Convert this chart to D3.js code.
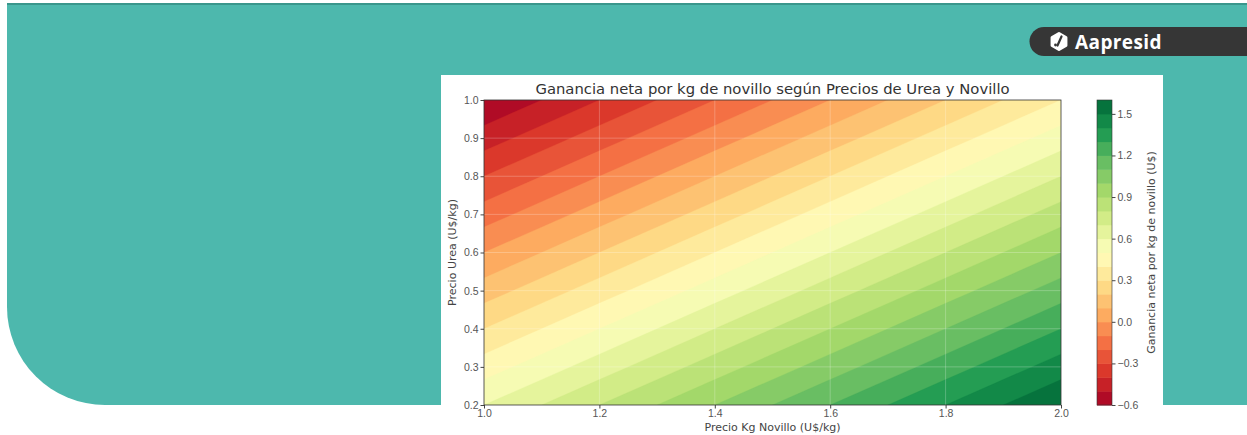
<!DOCTYPE html>
<html lang="es">
<head>
<meta charset="UTF-8">
<title>Ganancia neta por kg de novillo</title>
<script src="https://d3js.org/d3.v7.min.js"></script>
<style>
  body { margin: 0; background: #fff; }
  svg { display: block; font-family: "DejaVu Sans", sans-serif; }
  .tick text { fill: #555; font-size: 10.5px; }
  .tick line { stroke: #444; }
</style>
</head>
<body>
<svg id="chart" width="1247" height="435"></svg>
<script>
// precio kg novillo (x) y precio urea (y) del grid
const novillo = [1.0, 1.2, 1.4, 1.6, 1.8, 2.0];
const urea = [1.0, 0.9, 0.8, 0.7, 0.6, 0.5, 0.4, 0.3, 0.2];
// ganancia neta (U$), una fila por precio de urea
const ganancia = [
  [-0.60, -0.40, -0.20, 0.00, 0.20, 0.40],
  [-0.45, -0.25, -0.05, 0.15, 0.35, 0.55],
  [-0.30, -0.10, 0.10, 0.30, 0.50, 0.70],
  [-0.15, 0.05, 0.25, 0.45, 0.65, 0.85],
  [0.00, 0.20, 0.40, 0.60, 0.80, 1.00],
  [0.15, 0.35, 0.55, 0.75, 0.95, 1.15],
  [0.30, 0.50, 0.70, 0.90, 1.10, 1.30],
  [0.45, 0.65, 0.85, 1.05, 1.25, 1.45],
  [0.60, 0.80, 1.00, 1.20, 1.40, 1.60]
];
const levels = [-0.6, -0.5, -0.4, -0.3, -0.2, -0.1, 0.0, 0.1, 0.2, 0.3, 0.4, 0.5,
  0.6, 0.7, 0.8, 0.9, 1.0, 1.1, 1.2, 1.3, 1.4, 1.5, 1.6];
const xTicks = [1.0, 1.2, 1.4, 1.6, 1.8, 2.0];
const yTicks = [0.2, 0.3, 0.4, 0.5, 0.6, 0.7, 0.8, 0.9, 1.0];
const cbarTicks = [-0.6, -0.3, 0.0, 0.3, 0.6, 0.9, 1.2, 1.5];

const svg = d3.select("#chart");

// fondo teal con esquina redondeada
const teal = "#4db8ad";
svg.append("path")
  .attr("d", "M7,4 H1247 V405 H105 A98,98 0 0 1 7,307 Z")
  .attr("fill", teal);
svg.append("rect").attr("x", 7).attr("y", 3).attr("width", 1240).attr("height", 2)
  .attr("fill", "#3a968c");

// logo Aapresid
const logo = svg.append("g");
logo.append("path")
  .attr("d", "M1044,27 H1247 V56 H1044 A14.5,14.5 0 0 1 1044,27 Z")
  .attr("fill", "#363636");
const icon = logo.append("g").attr("transform", "translate(1059,41.5)");
icon.append("path")
  .attr("d", d3.range(7).map(i => {
    const a = i / 6 * 2 * Math.PI - Math.PI / 2;
    return (i ? "L" : "M") + (8 * Math.cos(a)).toFixed(2) + "," + (8 * Math.sin(a)).toFixed(2);
  }).join("") + "Z")
  .attr("fill", "#fff").attr("stroke", "#fff").attr("stroke-width", 3).attr("stroke-linejoin", "round");
icon.append("line").attr("x1", 2.5).attr("y1", -5).attr("x2", -1.5).attr("y2", 4)
  .attr("stroke", "#363636").attr("stroke-width", 2.2).attr("stroke-linecap", "round");
icon.append("circle").attr("cx", -3.5).attr("cy", 3.5).attr("r", 1.4).attr("fill", "#363636");
logo.append("text")
  .attr("x", 1075).attr("y", 48.5)
  .attr("fill", "#fff")
  .attr("font-family", "'Open Sans', sans-serif")
  .attr("font-weight", 700)
  .attr("font-size", 19)
  .attr("letter-spacing", 0.4)
  .text("Aapresid");

// panel blanco del grafico
svg.append("rect").attr("x", 441).attr("y", 75).attr("width", 722).attr("height", 360).attr("fill", "#fff");

const plot = { left: 484, right: 1061, top: 100, bottom: 405 };
const x = d3.scaleLinear().domain([1.0, 2.0]).range([plot.left, plot.right]);
const y = d3.scaleLinear().domain([0.2, 1.0]).range([plot.bottom, plot.top]);

// colormap RdYlGn como matplotlib (interpolacion lineal de los 11 colores)
const rdylgn = d3.scaleLinear()
  .domain(d3.range(11).map(i => i / 10))
  .range(d3.schemeRdYlGn[11])
  .interpolate(d3.interpolateRgb);
const vmin = levels[0], vmax = levels[levels.length - 1];
const bandColor = i => rdylgn(((levels[i] + levels[i + 1]) / 2 - vmin) / (vmax - vmin));

// contornos rellenos
const nx = novillo.length, ny = urea.length;
const values = ganancia.flat();
const contours = d3.contours().size([nx, ny]).thresholds(levels.slice(0, -1))(values);
const gx = d3.scaleLinear().domain([0.5, nx - 0.5]).range([x(novillo[0]), x(novillo[nx - 1])]);
const gy = d3.scaleLinear().domain([0.5, ny - 0.5]).range([y(urea[0]), y(urea[ny - 1])]);
const proj = d3.geoTransform({
  point: function(px, py) { this.stream.point(gx(px), gy(py)); }
});
const path = d3.geoPath(proj);

svg.append("clipPath").attr("id", "clip")
  .append("rect")
  .attr("x", plot.left).attr("y", plot.top)
  .attr("width", plot.right - plot.left).attr("height", plot.bottom - plot.top);

svg.append("g").attr("clip-path", "url(#clip)")
  .selectAll("path")
  .data(contours)
  .join("path")
  .attr("d", path)
  .attr("fill", (d, i) => bandColor(i))
  .attr("stroke", (d, i) => bandColor(i))
  .attr("stroke-width", 0.3);

// grilla
const grid = svg.append("g").attr("stroke", "#fff").attr("stroke-opacity", 0.3).attr("stroke-width", 0.8);
grid.selectAll(".gx").data(xTicks.slice(1, -1)).join("line")
  .attr("x1", d => x(d)).attr("x2", d => x(d)).attr("y1", plot.top).attr("y2", plot.bottom);
grid.selectAll(".gy").data(yTicks.slice(1, -1)).join("line")
  .attr("y1", d => y(d)).attr("y2", d => y(d)).attr("x1", plot.left).attr("x2", plot.right);

// ejes
const xAxis = svg.append("g").attr("transform", `translate(0,${plot.bottom})`)
  .call(d3.axisBottom(x).tickValues(xTicks).tickFormat(d3.format(".1f")).tickSize(3.5).tickPadding(1.5));
const yAxis = svg.append("g").attr("transform", `translate(${plot.left},0)`)
  .call(d3.axisLeft(y).tickValues(yTicks).tickFormat(d3.format(".1f")).tickSize(3.5).tickPadding(2));
[xAxis, yAxis].forEach(a => a.select(".domain").remove());
svg.append("rect")
  .attr("x", plot.left).attr("y", plot.top)
  .attr("width", plot.right - plot.left).attr("height", plot.bottom - plot.top)
  .attr("fill", "none").attr("stroke", "#333").attr("stroke-width", 0.8);

// titulo y etiquetas
svg.append("text")
  .attr("x", (plot.left + plot.right) / 2).attr("y", 93.5)
  .attr("text-anchor", "middle").attr("font-size", 14.8).attr("fill", "#333")
  .text("Ganancia neta por kg de novillo según Precios de Urea y Novillo");
svg.append("text")
  .attr("x", (plot.left + plot.right) / 2).attr("y", 431)
  .attr("text-anchor", "middle").attr("font-size", 11).attr("fill", "#444")
  .text("Precio Kg Novillo (U$/kg)");
svg.append("text")
  .attr("transform", `translate(456,${(plot.top + plot.bottom) / 2}) rotate(-90)`)
  .attr("text-anchor", "middle").attr("font-size", 11).attr("fill", "#444")
  .text("Precio Urea (U$/kg)");

// barra de colores
const cb = { left: 1097, width: 15 };
const cy = d3.scaleLinear().domain([vmin, vmax]).range([plot.bottom, plot.top]);
svg.append("g").selectAll("rect")
  .data(levels.slice(0, -1))
  .join("rect")
  .attr("x", cb.left).attr("width", cb.width)
  .attr("y", (d, i) => cy(levels[i + 1]))
  .attr("height", (d, i) => cy(levels[i]) - cy(levels[i + 1]) + 0.5)
  .attr("fill", (d, i) => bandColor(i));
svg.append("rect")
  .attr("x", cb.left).attr("y", plot.top).attr("width", cb.width).attr("height", plot.bottom - plot.top)
  .attr("fill", "none").attr("stroke", "#333").attr("stroke-width", 0.6);
const cAxis = svg.append("g").attr("transform", `translate(${cb.left + cb.width},0)`)
  .call(d3.axisRight(cy).tickValues(cbarTicks).tickFormat(d => d3.format(".1f")(d).replace("-", "\u2212")).tickSize(3.5).tickPadding(2));
cAxis.select(".domain").remove();
svg.append("text")
  .attr("transform", `translate(1155,${(plot.top + plot.bottom) / 2}) rotate(-90)`)
  .attr("text-anchor", "middle").attr("font-size", 11).attr("fill", "#444")
  .text("Ganancia neta por kg de novillo (U$)");
</script>
</body>
</html>
